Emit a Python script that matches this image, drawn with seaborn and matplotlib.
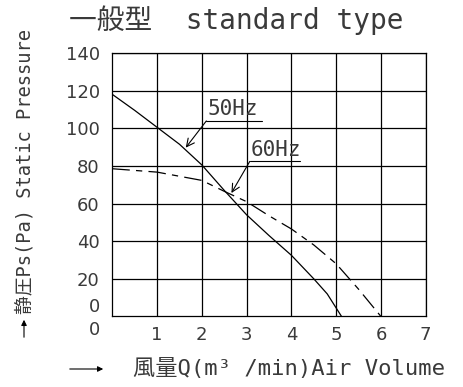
import numpy as np
import pandas as pd
import matplotlib
matplotlib.use('Agg')
import matplotlib.pyplot as plt
import seaborn as sns

# Static pressure curves
q_50hz = [0, 0.5, 1, 1.5, 2, 2.5, 3, 3.5, 4, 4.5, 4.8, 5.12]
ps_50hz = [118, 109.5, 100.5, 91.5, 80.5, 67, 54, 43, 32.5, 20, 12, 0]

q_60hz = [0, 1, 2, 2.5, 3, 3.5, 4, 4.5, 5, 5.5, 6]
ps_60hz = [78.5, 76.7, 72.3, 66.5, 61, 53.5, 46.5, 38, 28, 14.5, 0]

x_ticks = [1, 2, 3, 4, 5, 6, 7]
y_ticks = [20, 40, 60, 80, 100, 120, 140]

df = pd.concat([
    pd.DataFrame({'Q': q_50hz, 'Ps': ps_50hz, 'freq': '50Hz'}),
    pd.DataFrame({'Q': q_60hz, 'Ps': ps_60hz, 'freq': '60Hz'}),
])

sns.set_style('white')
plt.rcParams['font.family'] = ['DejaVu Sans', 'Noto Sans CJK JP']
mono = ['DejaVu Sans Mono', 'Noto Sans CJK JP']
txt_color = '#3a3a3a'

fig = plt.figure(figsize=(4.63, 3.87), dpi=100)
ax = fig.add_axes([0.2426, 0.1822, 0.6769, 0.6809])

sns.lineplot(data=df, x='Q', y='Ps', style='freq', ax=ax, color='black',
             linewidth=0.9, dashes={'50Hz': '', '60Hz': (14, 5, 5, 5)},
             legend=False)

ax.set_xlim(0, 7)
ax.set_ylim(0, 140)
ax.set_xticks(x_ticks)
ax.set_yticks(y_ticks)
ax.set_xticklabels([str(v) for v in x_ticks])
ax.set_yticklabels([str(v) for v in y_ticks])
ax.tick_params(axis='both', length=0, labelsize=13, colors=txt_color)
ax.tick_params(axis='x', pad=7)
ax.tick_params(axis='y', pad=9)
ax.grid(True, color='black', linewidth=0.9)
for s in ax.spines.values():
    s.set_color('black')
    s.set_linewidth(0.9)
ax.set_xlabel('')
ax.set_ylabel('')

# the two zero labels at the bottom-left corner
ax.text(-0.27, 4.8, '0', ha='right', va='center', fontsize=13, color=txt_color)
ax.text(-0.27, -7.2, '0', ha='right', va='center', fontsize=13, color=txt_color)

# curve labels with leader arrows
for label, tip, ux0, ux1, uy in [('50Hz', (1.64, 89.7), 2.10, 3.34, 103.9),
                                 ('60Hz', (2.66, 65.6), 3.07, 4.19, 82.4)]:
    ax.plot([ux0, ux1], [uy, uy], color='black', linewidth=0.8)
    ax.annotate('', xy=tip, xytext=(ux0, uy),
                arrowprops=dict(arrowstyle='->', color='black', lw=0.8,
                                mutation_scale=14, shrinkA=0, shrinkB=0))
    ax.text(ux0 + 0.03, uy + 1.0, label, ha='left', va='bottom', fontsize=15,
            family=mono, color=txt_color)

# title and axis labels
fig.text(236 / 463, 1 - 20 / 387, '一般型  standard type', ha='center',
         va='center', fontsize=20, family=mono, color=txt_color)
fig.text(25 / 463, 1 - 171 / 387, '静圧Ps(Pa) Static Pressure', rotation=90,
         ha='center', va='center', fontsize=13.5, family=mono, color=txt_color)
fig.text(289 / 463, 1 - 368 / 387, '風量Q(m³ /min)Air Volume', ha='center',
         va='center', fontsize=16, family=mono, color=txt_color)

# axis direction arrows
ax.annotate('', xy=(24 / 463, 1 - 317 / 387), xytext=(24 / 463, 1 - 340 / 387),
            xycoords='figure fraction', textcoords='figure fraction',
            arrowprops=dict(arrowstyle='-|>', color='black', lw=0.8,
                            mutation_scale=8))
ax.annotate('', xy=(106 / 463, 1 - 369 / 387), xytext=(67 / 463, 1 - 369 / 387),
            xycoords='figure fraction', textcoords='figure fraction',
            arrowprops=dict(arrowstyle='-|>', color='black', lw=0.8,
                            mutation_scale=8))

fig.savefig('out.png', dpi=100, facecolor='white')
